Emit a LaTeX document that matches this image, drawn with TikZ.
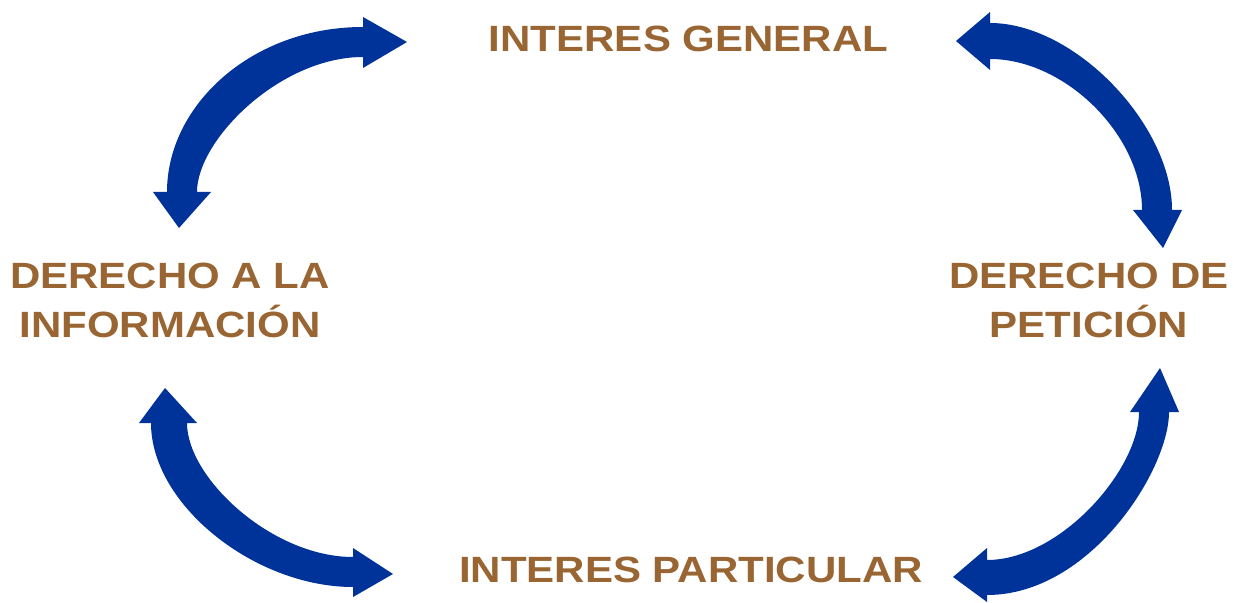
\documentclass[tikz,border=0pt]{standalone}
\usepackage{graphicx}
\usepackage{fontspec}
\setmainfont{Liberation Sans}
\definecolor{txtbrown}{HTML}{996633}
\definecolor{arrowblue}{HTML}{003399}
\newcommand\squash[1]{\scalebox{1}[0.87]{#1}}
\begin{document}
\begin{tikzpicture}[x=0.5pt,y=-0.5pt,
  lbl/.style={inner sep=0pt, anchor=base, text=txtbrown,
    font=\fontsize{21pt}{24pt}\selectfont\bfseries},
  cycarrow/.style={fill=arrowblue, draw=none}]
\useasboundingbox (0,0) rectangle (1234,603);
% labels
\node[lbl] (gen) at (688.5,52) {\squash{INTERES GENERAL}};
\node[lbl] (par) at (691,582) {\squash{INTERES PARTICULAR}};
\node[lbl] (infoA) at (170,289) {\squash{DERECHO A LA}};
\node[lbl] (infoB) at (170,338) {\squash{INFORMACIÓN}};
\node[lbl] (petA) at (1089,289) {\squash{DERECHO DE}};
\node[lbl] (petB) at (1089,338) {\squash{PETICIÓN}};
% arrow tips
\coordinate (tlA) at (179,228);
\coordinate (tlB) at (407,42);
\coordinate (trA) at (956,41);
\coordinate (trB) at (1163,248);
\coordinate (blA) at (165,388);
\coordinate (blB) at (393,574);
\coordinate (brA) at (1160,368);
\coordinate (brB) at (953,577);
% top-left curved double arrow
\fill[cycarrow] (167,192) -- (153,192) -- (tlA) -- (211,192) -- (197,192)
  .. controls (197,140) and (280,57) .. (363,57) -- (363,68) -- (tlB) -- (363,17) -- (363,27)
  .. controls (252,27) and (167,105) .. (167,192) -- cycle;
% top-right curved double arrow
\fill[cycarrow] (990,23) -- (990,12) -- (trA) -- (990,70) -- (990,59)
  .. controls (1065,59) and (1142,135) .. (1142,210) -- (1133,210) -- (trB) -- (1182,210) -- (1172,210)
  .. controls (1172,125) and (1075,23) .. (990,23) -- cycle;
% bottom-left curved double arrow
\fill[cycarrow] (151,423) -- (139,423) -- (blA) -- (197,423) -- (187,423)
  .. controls (187,478) and (272,557) .. (353,557) -- (353,548) -- (blB) -- (353,597) -- (353,587)
  .. controls (255,587) and (151,505) .. (151,423) -- cycle;
% bottom-right curved double arrow
\fill[cycarrow] (1169,412) -- (1179,412) -- (brA) -- (1130,412) -- (1139,412)
  .. controls (1139,470) and (1060,560) .. (987,560) -- (987,548) -- (brB) -- (987,602) -- (987,595)
  .. controls (1090,595) and (1169,470) .. (1169,412) -- cycle;
\end{tikzpicture}
\end{document}
